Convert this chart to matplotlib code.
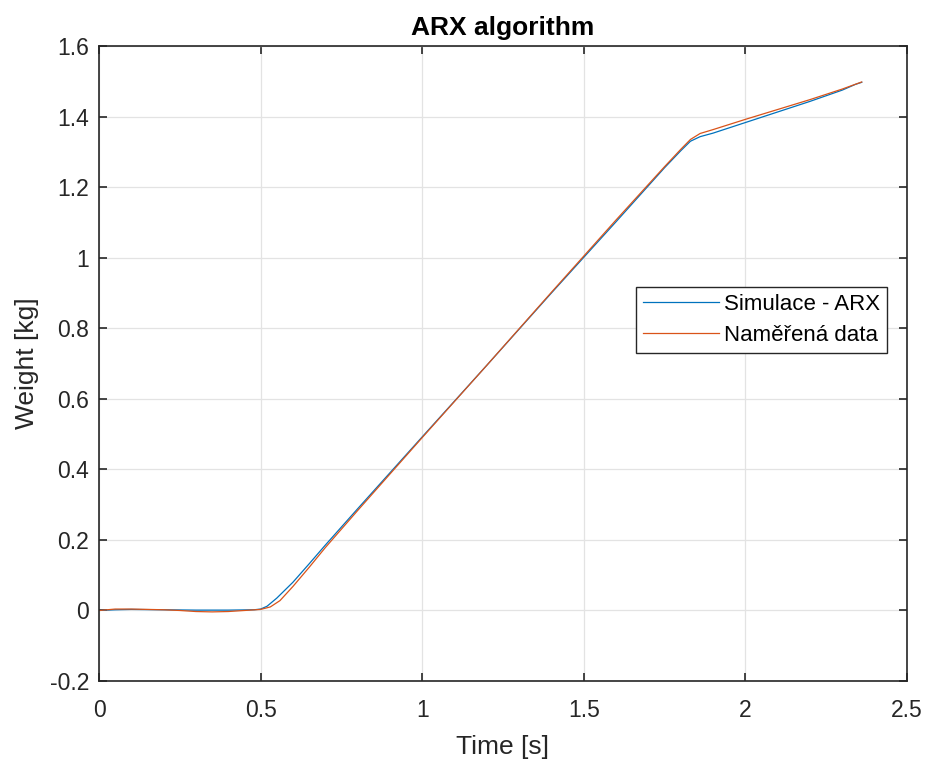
#!/usr/bin/env python3
"""ARX simulation vs measured weight, MATLAB-style line chart."""
import matplotlib
matplotlib.use("Agg")
import matplotlib.pyplot as plt

# Simulace - ARX
T_SIM = [0, 0.05, 0.1, 0.2, 0.3, 0.4, 0.48, 0.5, 0.52, 0.55, 0.6, 0.65, 0.7,
         0.8, 1.0, 1.2, 1.4, 1.6, 1.75, 1.8, 1.83, 1.86, 1.9, 2.0, 2.1, 2.2,
         2.3, 2.34, 2.36]
Y_SIM = [0, 0.002, 0.003, 0.002, 0.001, 0.001, 0.002, 0.004, 0.012, 0.035,
         0.08, 0.132, 0.185, 0.288, 0.492, 0.695, 0.9, 1.102, 1.255, 1.303,
         1.33, 1.343, 1.353, 1.383, 1.413, 1.443, 1.475, 1.491, 1.497]

# Naměřená data
T_MEAS = [0, 0.05, 0.1, 0.2, 0.25, 0.3, 0.35, 0.4, 0.45, 0.5, 0.53, 0.56,
          0.6, 0.65, 0.7, 0.8, 1.0, 1.2, 1.4, 1.6, 1.75, 1.8, 1.83, 1.86,
          1.9, 2.0, 2.1, 2.2, 2.3, 2.36]
Y_MEAS = [0, 0.004, 0.004, 0.002, 0.0, -0.003, -0.004, -0.003, 0.0, 0.003,
          0.01, 0.028, 0.068, 0.122, 0.178, 0.283, 0.49, 0.695, 0.902, 1.107,
          1.258, 1.307, 1.335, 1.352, 1.363, 1.392, 1.42, 1.448, 1.478, 1.498]

X_TICKS = [0, 0.5, 1, 1.5, 2, 2.5]
X_TICKLABELS = ["0", "0.5", "1", "1.5", "2", "2.5"]
Y_TICKS = [-0.2, 0, 0.2, 0.4, 0.6, 0.8, 1, 1.2, 1.4, 1.6]
Y_TICKLABELS = ["-0.2", "0", "0.2", "0.4", "0.6", "0.8", "1", "1.2", "1.4", "1.6"]

plt.rcParams["font.family"] = ["Liberation Sans", "DejaVu Sans"]
TXT = "#262626"

fig = plt.figure(figsize=(9.27, 7.6), dpi=100)
ax = fig.add_axes([0.1068, 0.1039, 0.8716, 0.8356])

ax.plot(T_SIM, Y_SIM, color="#0072BD", linewidth=0.9, label="Simulace - ARX")
ax.plot(T_MEAS, Y_MEAS, color="#D95319", linewidth=0.9, label="Naměřená data")

ax.set_xlim(0, 2.5)
ax.set_ylim(-0.2, 1.6)
ax.set_xticks(X_TICKS)
ax.set_xticklabels(X_TICKLABELS)
ax.set_yticks(Y_TICKS)
ax.set_yticklabels(Y_TICKLABELS)
ax.grid(True, color="#e3e3e3", linewidth=0.9)
ax.set_axisbelow(True)
ax.tick_params(direction="in", length=6, width=1.2, colors=TXT,
               labelsize=16.5, top=True, right=True)
ax.tick_params(axis="x", pad=13)
ax.tick_params(axis="y", pad=7)
for s in ax.spines.values():
    s.set_color(TXT)
    s.set_linewidth(1.2)

ax.set_xlabel("Time [s]", fontsize=19, color=TXT, labelpad=9)
ax.set_ylabel("Weight [kg]", fontsize=19, color=TXT, labelpad=8)
ax.set_title("ARX algorithm", fontsize=19, fontweight="bold", color="black", pad=8)

leg = ax.legend(loc="upper left", bbox_to_anchor=(0.665, 0.62), fontsize=16,
                frameon=True, fancybox=False, framealpha=1, edgecolor=TXT,
                handlelength=3.4, handletextpad=0.25, borderpad=0.3,
                labelspacing=0.45, borderaxespad=0)
leg.get_frame().set_linewidth(1.0)

fig.savefig("out.png", dpi=100)
